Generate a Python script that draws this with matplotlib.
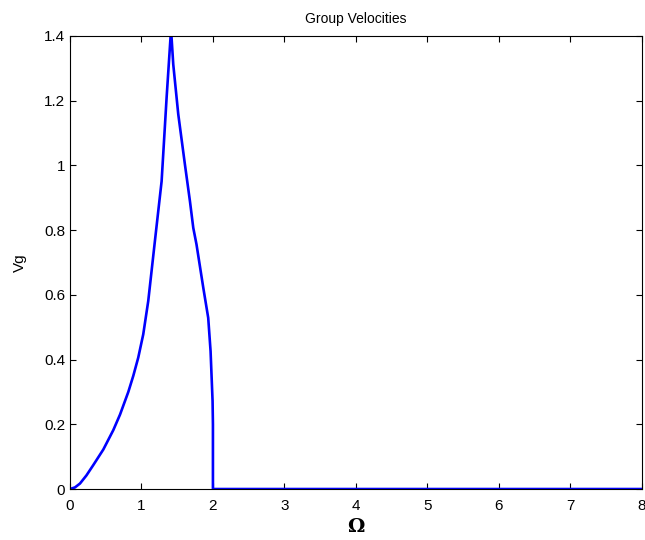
import matplotlib
matplotlib.use("Agg")
import matplotlib.pyplot as plt

plt.rcParams['font.family'] = ['Liberation Sans', 'DejaVu Sans']

# values
omega = [0.0, 0.07, 0.14, 0.23, 0.326, 0.466, 0.606, 0.70, 0.816, 0.886,
         0.955, 1.025, 1.095, 1.19, 1.282, 1.352, 1.414, 1.445, 1.515,
         1.608, 1.678, 1.725, 1.77, 1.865, 1.934, 1.967, 1.995, 2.0, 2.0, 8.0]
vg = [0.0, 0.005, 0.017, 0.042, 0.074, 0.122, 0.182, 0.23, 0.300, 0.350,
      0.406, 0.478, 0.581, 0.77, 0.951, 1.21, 1.42, 1.312, 1.158,
      1.003, 0.89, 0.807, 0.756, 0.622, 0.529, 0.426, 0.272, 0.2, 0.0, 0.0]

xticks = [0, 1, 2, 3, 4, 5, 6, 7, 8]
yticks = [0, 0.2, 0.4, 0.6, 0.8, 1.0, 1.2, 1.4]
yticklabels = ['0', '0.2', '0.4', '0.6', '0.8', '1', '1.2', '1.4']

fig = plt.figure(figsize=(6.45, 5.4), dpi=100)
ax = fig.add_axes([0.1085, 0.0944, 0.8865, 0.839])
ax.plot(omega, vg, color='#0000ff', linewidth=1.9)

ax.set_xlim(0, 8)
ax.set_ylim(0, 1.4)
ax.set_xticks(xticks)
ax.set_yticks(yticks)
ax.set_yticklabels(yticklabels)
ax.tick_params(direction='in', top=True, right=True, length=4, labelsize=11)
ax.tick_params(axis='x', pad=7)

ax.set_title('Group Velocities', fontsize=10, pad=9)
ax.set_xlabel('Ω', fontsize=14, fontweight='bold', family='DejaVu Serif', labelpad=4)
ax.set_ylabel('Vg', fontsize=11, labelpad=12)

fig.savefig('out.png', dpi=100)
